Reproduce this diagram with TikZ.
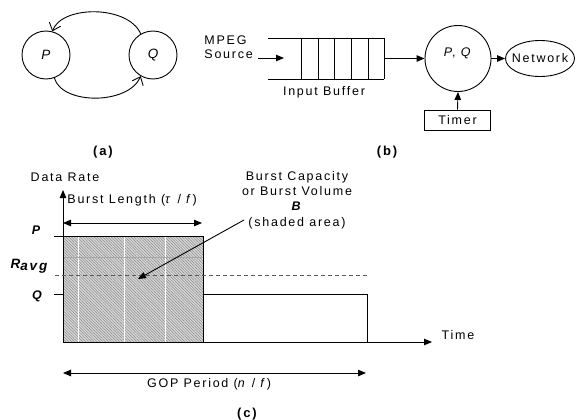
\documentclass[tikz,border=0pt]{standalone}
\usepackage{fontspec}
\setmainfont{Liberation Sans}[LetterSpace=14]
\usetikzlibrary{arrows.meta,patterns.meta,shapes.geometric}

\begin{document}
\begin{tikzpicture}[x=1pt,y=-1pt,line width=0.9pt,
  every node/.style={font=\fontsize{12.5}{14}\selectfont},
  txt/.style={inner sep=0pt},
  lbl/.style={inner sep=0pt,font=\fontsize{13}{14}\selectfont\bfseries},
  lvl/.style={inner sep=0pt,font=\fontsize{12.5}{14}\selectfont\bfseries\itshape},
  state/.style={circle,draw,minimum size=48pt,inner sep=0pt,font=\fontsize{13.5}{14}\selectfont\itshape},
  barb/.style={-{Straight Barb[length=7pt,width=12pt]}},
  tri/.style={-{Triangle[length=8pt,width=6.5pt]}},
  dtri/.style={{Triangle[length=8pt,width=6.5pt]}-{Triangle[length=8pt,width=6.5pt]}}]
\useasboundingbox (0,0) rectangle (576,420);

% ---------- (a) two-state model ----------
\node[state] (P) at (46,55) {P};
\node[state] (Q) at (153,55) {Q};
\draw[barb] (Q.120) .. controls (128,5) and (62,5) .. (P.75);
\draw[barb] (P.-70) .. controls (62,105) and (128,105) .. (Q.-120);
\node[lbl] (la) at (103,152) {(a)};

% ---------- (b) shaper ----------
\node[txt,anchor=west,align=left] (src) at (204,47) {MPEG\\Source};
\coordinate (in0) at (258,58);
\coordinate (in1) at (284,58);
\draw[tri] (in0) -- (in1);
\draw (268,38) -- (384,38);
\draw (268,79) -- (384,79);
\foreach \x in {301,318,334,351,368,384} \draw (\x,38) -- (\x,79);
\coordinate (bufout) at (384,58.5);
\node[txt] (buflbl) at (324,92) {Input Buffer};
\node[circle,draw,minimum size=66pt,inner sep=0pt] (PQ) at (458,58.5) {};
\node[txt] (pqlbl) at (458,53) {\textit{P}, \textit{Q}};
\node[ellipse,draw,minimum width=69pt,minimum height=36pt,inner sep=0pt] (net) at (540,58.5) {\makebox[40pt]{Network}};
\node[draw,minimum width=66pt,minimum height=20pt,inner sep=0pt] (timer) at (457.5,120) {Timer};
\draw[tri] (bufout) -- (PQ.west);
\draw[tri] (PQ.east) -- (net.west);
\draw[tri] (timer.north) -- (PQ.south);
\node[lbl] (lb) at (387,152) {(b)};

% ---------- (c) rate profile ----------
\coordinate (O) at (63,342);
\coordinate (ytop) at (63,190);
\coordinate (xend) at (432,342);
% burst block
\fill[black!16] (63,236) rectangle (203,342);
\fill[pattern={Lines[angle=-45,distance=2pt,line width=0.5pt]},pattern color=black!45] (63,236) rectangle (203,342);
\foreach \x in {78,124,165} \draw[white,line width=0.7pt] (\x,236.5) -- (\x,341.5);
\draw[black!35,line width=0.5pt] (63,257) -- (203,257);
\draw (63,236) -- (203,236) -- (203,342);
% low-rate part
\draw (203,294) -- (367,294) -- (367,342);
% axes
\draw[tri] (O) -- (ytop);
\draw[tri] (O) -- (xend);
\draw (54,236) -- (63,236);
\draw (54,294) -- (63,294);
\draw[black!65,line width=0.6pt,dash pattern=on 4pt off 3pt] (55,275) -- (367,275);
% level labels
\node[lvl] (lP) at (36,230) {P};
\node[lvl,font=\fontsize{13.5}{14}\selectfont\bfseries\itshape] (lR) at (29,266) {R\raisebox{-2pt}{avg}};
\node[lvl] (lQ) at (37,296) {Q};
\node[txt] (ylbl) at (65,177) {Data Rate};
\node[txt] (xlbl) at (458,335) {Time};
% burst length
\coordinate (bl0) at (63,223);
\coordinate (bl1) at (202,223);
\draw[dtri] (bl0) -- (bl1);
\node[txt,anchor=west] (bllbl) at (67,200) {Burst Length (\textit{τ} / \textit{f})};
% burst volume
\node[txt,align=center,font=\fontsize{12.5}{15.3}\selectfont] (bv) at (297,200)
  {Burst Capacity\\or Burst Volume\\\textbf{\textit{B}}\\(shaded area)};
\coordinate (bsrc) at (244,220);
\coordinate (bdst) at (138,279);
\draw[tri] (bsrc) -- (bdst);
% GOP period
\coordinate (g0) at (63,373);
\coordinate (g1) at (366,373);
\draw[dtri] (g0) -- (g1);
\node[txt] (glbl) at (209,384) {GOP Period (\textit{n} / \textit{f})};
\node[lbl] (lc) at (247,414) {(c)};
\end{tikzpicture}
\end{document}
